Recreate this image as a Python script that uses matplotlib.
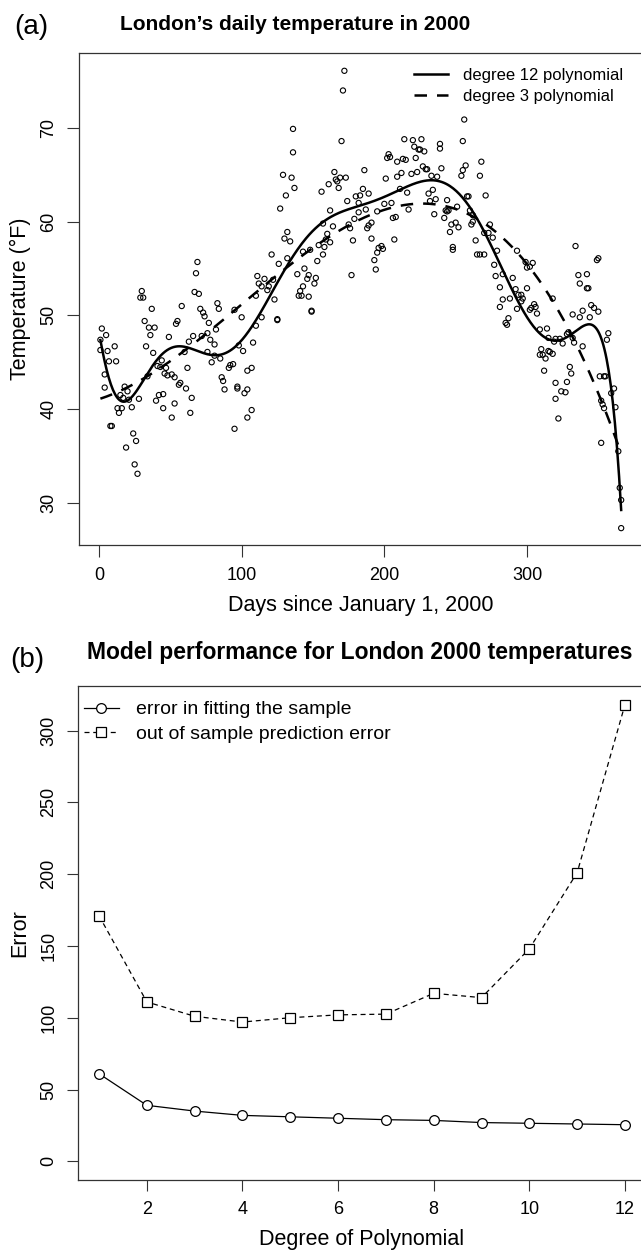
import numpy as np
import matplotlib.pyplot as plt

plt.rcParams['font.family'] = ['Liberation Sans', 'DejaVu Sans']

# daily temperatures: day of year, degrees F
days = [2, 5, 1, 1, 6, 11, 7, 12, 4, 4, 18, 20, 15, 17, 21, 28, 13, 16, 14, 23,
        8, 9, 24, 26, 19, 25, 27, 30, 29, 31, 37, 32, 35, 39, 36, 49, 33, 38, 44, 41,
        43, 46, 48, 34, 47, 42, 45, 40, 45,
        69, 68, 67, 70, 58, 55, 54, 71, 73, 74, 77, 83, 84, 95, 100, 82, 66, 72, 76, 63,
        78, 81, 60, 76, 98, 101, 108, 110, 79, 81, 85, 62, 92, 94, 91, 104, 107, 86, 87, 51,
        53, 57, 56, 61, 88, 97, 97, 104, 102, 53, 65, 51, 64, 107, 104, 95, 111, 112, 114, 114,
        110, 116,
        172, 171, 136, 136, 170, 129, 135, 137, 131, 127, 165, 161, 166, 169, 173, 167, 168, 156, 174, 180,
        182, 162, 179, 175, 176, 182, 157, 164, 132, 130, 134, 160, 159, 162, 154, 158, 157, 153, 121, 143,
        148, 178, 132, 126, 139, 144, 147, 146, 152, 151, 143, 141, 140, 142, 147, 177, 122, 119, 118, 123,
        149, 149, 125, 125,
        214, 220, 226, 221, 224, 225, 228, 239, 239, 203, 202, 204, 209, 213, 215, 222, 186, 227, 229, 230,
        240, 223, 219, 212, 209, 201, 233, 237, 185, 189, 183, 211, 216, 231, 234, 236, 244, 232, 200, 205,
        187, 243, 244, 245, 217, 195, 235, 242, 206, 208, 191, 189, 188, 247, 191, 207, 246, 248, 248, 198,
        199, 196, 195, 193, 194,
        256, 255, 268, 257, 255, 254, 267, 271, 258, 259, 251, 260, 262, 250, 252, 261, 262, 274, 270, 273,
        276, 264, 265, 267, 270, 279, 293, 277, 283, 278, 290, 299, 304, 302, 300, 281, 292, 300, 296, 297,
        294, 283, 288, 296, 305, 306, 281, 293, 302, 307, 303, 285, 286, 287, 309, 314, 315, 310, 311, 313,
        309, 315, 312,
        334, 349, 350, 336, 342, 337, 342, 343, 318, 345, 347, 350, 339, 332, 337, 344, 357, 356, 320, 319,
        323, 325, 329, 328, 332, 333, 339, 316, 318, 330, 331, 351, 354, 355, 320, 328, 361, 359, 324, 327,
        320, 352, 353, 354, 362, 322, 352, 364, 365, 366, 366]
temps = [48.6, 47.9, 47.4, 46.3, 46.2, 46.7, 45.1, 45.1, 43.7, 42.3, 42.4, 41.9, 41.5, 41.2, 41.0, 41.1, 40.1, 40.1, 39.6, 40.2,
         38.2, 38.2, 37.4, 36.6, 35.9, 34.1, 33.1, 52.6, 51.9, 51.9, 50.7, 49.4, 48.7, 48.7, 47.9, 47.7, 46.7, 46.0, 45.2, 44.6,
         44.5, 43.8, 43.6, 43.5, 44.4, 41.5, 41.6, 40.9, 40.1,
         55.7, 54.5, 52.5, 52.3, 51.0, 49.4, 49.1, 50.7, 50.3, 49.9, 49.2, 51.3, 50.7, 50.6, 49.8, 48.5, 47.8, 47.8, 48.1, 47.2,
         47.4, 46.9, 46.1, 46.1, 46.8, 46.2, 47.1, 48.9, 45.0, 45.7, 45.4, 44.4, 44.7, 44.8, 44.4, 44.1, 44.4, 43.4, 43.0, 43.7,
         43.4, 42.8, 42.6, 42.2, 42.1, 42.4, 42.2, 42.1, 41.7, 40.6, 41.2, 39.1, 39.6, 39.9, 39.1, 37.9, 54.2, 53.4, 53.1, 49.8,
         52.1, 53.9,
         76.1, 74.0, 69.9, 67.4, 68.6, 65.0, 64.7, 63.6, 62.8, 61.4, 65.3, 64.0, 64.5, 64.7, 64.7, 64.3, 63.6, 63.2, 62.2, 62.7,
         62.0, 61.2, 60.3, 59.7, 59.3, 61.0, 59.8, 59.5, 58.9, 58.2, 57.9, 58.7, 58.1, 57.8, 57.5, 57.3, 56.5, 55.8, 56.5, 56.8,
         57.0, 58.0, 56.1, 55.5, 54.4, 55.0, 54.3, 53.9, 54.0, 53.4, 53.1, 52.6, 52.1, 52.1, 52.0, 54.3, 53.8, 53.1, 52.7, 51.7,
         50.5, 50.4, 49.5, 49.6,
         68.8, 68.7, 68.8, 68.0, 67.7, 67.7, 67.5, 68.3, 67.8, 67.2, 66.8, 66.9, 66.4, 66.7, 66.6, 66.8, 65.5, 65.9, 65.6, 65.6,
         65.7, 65.3, 65.1, 65.2, 64.8, 64.6, 64.9, 64.8, 63.5, 63.0, 62.8, 63.5, 63.1, 63.0, 63.4, 62.4, 62.3, 62.2, 61.9, 62.0,
         61.3, 61.2, 61.1, 61.2, 61.3, 61.1, 60.8, 60.4, 60.4, 60.5, 59.9, 59.6, 59.3, 59.7, 58.2, 58.1, 58.9, 57.3, 57.0, 57.4,
         57.1, 57.2, 56.7, 55.9, 54.9,
         70.9, 68.6, 66.4, 66.0, 65.5, 64.9, 64.9, 62.8, 62.7, 62.7, 61.6, 61.2, 60.7, 59.9, 59.4, 59.7, 60.0, 59.7, 58.8, 58.8,
         58.3, 58.0, 56.5, 56.5, 56.5, 56.9, 56.9, 55.4, 54.4, 54.2, 54.0, 55.7, 55.6, 55.2, 55.1, 53.0, 52.8, 52.9, 52.2, 51.8,
         52.2, 51.7, 51.8, 51.5, 51.2, 50.9, 50.9, 50.7, 50.6, 50.2, 50.8, 49.2, 49.0, 49.7, 48.5, 48.6, 47.6, 46.4, 45.8, 45.4,
         45.8, 46.2, 44.1,
         57.4, 55.9, 56.1, 54.3, 54.4, 53.4, 52.9, 52.9, 51.8, 51.1, 50.8, 50.4, 50.5, 50.1, 49.8, 49.8, 48.1, 47.4, 47.5, 47.2,
         47.5, 47.0, 48.2, 48.0, 47.6, 47.1, 46.7, 46.1, 45.9, 44.5, 43.8, 43.5, 43.5, 43.5, 42.8, 42.9, 42.2, 41.7, 41.9, 41.8,
         41.1, 40.9, 40.5, 40.1, 40.2, 39.0, 36.4, 35.5, 31.6, 30.3, 27.3]

# panel (b): fitting error by polynomial degree
degrees = list(range(1, 13))
in_sample_err = [61, 39, 35, 32, 31, 30, 29, 28.5, 27, 26.5, 26, 25.5]
out_sample_err = [171, 111, 101, 97, 100, 102, 102.5, 117, 114, 148, 201, 318]

W, H = 641, 1251
fig = plt.figure(figsize=(W / 100, H / 100), dpi=100)

TICK = 13
LAB = 15.5

# ---- panel (a)
ax = fig.add_axes([79 / W, 1 - 545 / H, 563 / W, 492 / H])
ax.scatter(days, temps, s=14, facecolors='none', edgecolors='k', linewidths=0.8, zorder=3)

fit12 = np.polynomial.Polynomial.fit(days, temps, 12)
fit3 = np.polynomial.Polynomial.fit(days, temps, 3)
grid = np.linspace(1, 366, 500)
ax.plot(grid, fit12(grid), color='k', lw=1.8, label='degree 12 polynomial', zorder=4)
ax.plot(grid, fit3(grid), color='k', lw=1.8, dashes=(5, 4), label='degree 3 polynomial', zorder=4)

ax.set_xlim(-14, 380.6)
ax.set_ylim(25.5, 78.0)
ax.set_xticks([0, 100, 200, 300])
ax.set_yticks([30, 40, 50, 60, 70])
ax.set_xlabel('Days since January 1, 2000', fontsize=LAB, labelpad=8)
ax.set_ylabel('Temperature (°F)', fontsize=LAB, labelpad=7)
ax.tick_params(labelsize=TICK, length=8.5, width=0.8, pad=7, color='#333333')
for t in ax.get_yticklabels():
    t.set_rotation(90)
    t.set_va('center')
ax.legend(loc='upper right', frameon=False, fontsize=12, handlelength=2.0, handletextpad=0.95,
          borderaxespad=0, borderpad=0.4, labelspacing=0.38, bbox_to_anchor=(0.979, 0.984))
for s in ax.spines.values():
    s.set_linewidth(0.9)
    s.set_color('#333333')

fig.text(14 / W, 1 - 27 / H, '(a)', fontsize=20, va='center', ha='left')
fig.text(295 / W, 1 - 25 / H, 'London’s daily temperature in 2000', fontsize=15,
         fontweight='bold', va='center', ha='center')

# ---- panel (b)
bx = fig.add_axes([78 / W, 1 - 1180 / H, 568 / W, 494 / H])
bx.plot(degrees, in_sample_err, color='k', lw=0.9, marker='o', ms=7, mfc='white',
        mew=0.9, label='error in fitting the sample')
bx.plot(degrees, out_sample_err, color='k', lw=0.9, dashes=(4, 3), marker='s', ms=6.5,
        mfc='white', mew=0.9, label='out of sample prediction error')
bx.set_xlim(0.56, 12.44)
bx.set_ylim(-13, 331)
bx.set_xticks([2, 4, 6, 8, 10, 12])
bx.set_yticks([0, 50, 100, 150, 200, 250, 300])
bx.set_xlabel('Degree of Polynomial', fontsize=LAB, labelpad=8)
bx.set_ylabel('Error', fontsize=LAB, labelpad=7)
bx.tick_params(labelsize=TICK, length=8, width=0.8, pad=7, color='#333333')
for t in bx.get_yticklabels():
    t.set_rotation(90)
    t.set_va('center')
bx.legend(loc='upper left', frameon=False, fontsize=14, handlelength=1.8, handletextpad=0.9,
          borderaxespad=0, borderpad=0.3, labelspacing=0.35, bbox_to_anchor=(0.0, 0.982))
for s in bx.spines.values():
    s.set_linewidth(0.9)
    s.set_color('#333333')

fig.text(10 / W, 1 - 660 / H, '(b)', fontsize=20, va='center', ha='left')
fig.text(360 / W, 1 - 653 / H, 'Model performance for London 2000 temperatures',
         fontsize=16.5, fontweight='bold', va='center', ha='center')

fig.savefig('out.png', dpi=100)
